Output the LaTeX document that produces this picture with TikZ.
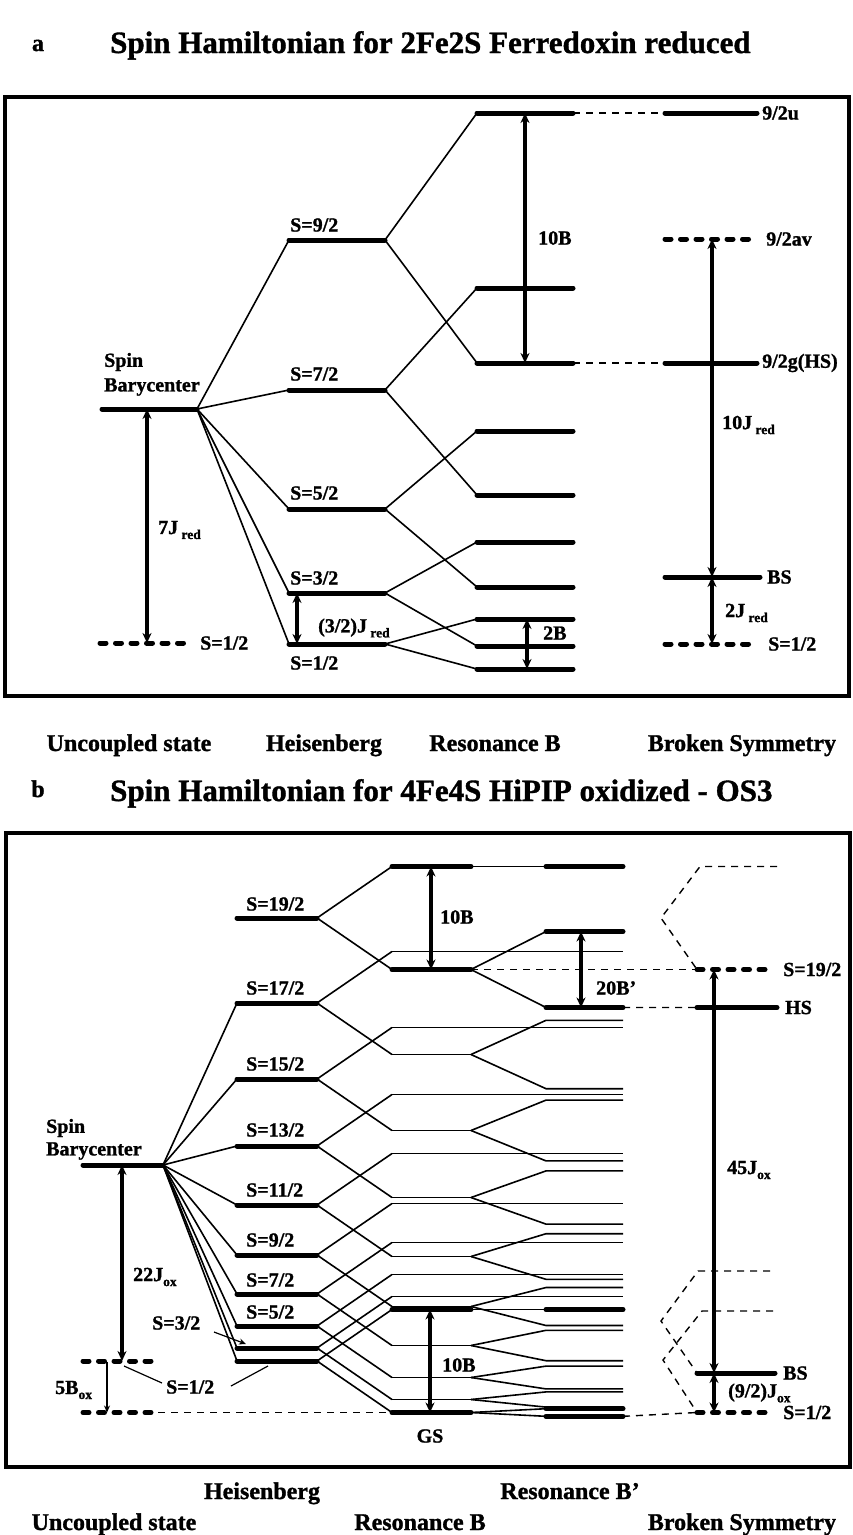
\documentclass[tikz,border=0pt]{standalone}
\usepackage{fontspec}
\setmainfont{Liberation Serif}[BoldFeatures={FakeBold=1.2}]
\usetikzlibrary{arrows.meta}
\newcommand{\lsub}[1]{\raisebox{-5pt}{\fontsize{13.5}{13.5}\selectfont #1}}
\begin{document}
\begin{tikzpicture}[x=1pt,y=-1pt,
 lvl/.style={line width=5pt,line cap=round},
 dlvl/.style={line width=5pt,line cap=round,dash pattern=on 6pt off 9.5pt},
 tline/.style={line width=1.6pt},
 tdash/.style={line width=1.4pt,dash pattern=on 7pt off 6pt},
 darr/.style={line width=3.2pt,{Stealth[length=10pt,width=9pt]}-{Stealth[length=10pt,width=9pt]}},
 sarr/.style={line width=1.2pt,-{Stealth[length=7pt,width=6pt]}},
 lab/.style={font=\fontsize{20}{20}\selectfont\bfseries,inner sep=0pt},
 axl/.style={font=\fontsize{24}{24}\selectfont\bfseries,inner sep=0pt},
 ttl/.style={font=\fontsize{31}{31}\selectfont\bfseries,inner sep=0pt},
 frm/.style={line width=4.5pt}
]
\useasboundingbox (0,0) rectangle (853,1535);

% ---------------- titles ----------------
\node[axl,anchor=base] (ta) at (38,51) {a};
\node[ttl,anchor=base west] (tta) at (110,53) {Spin Hamiltonian for 2Fe2S Ferredoxin reduced};
\node[axl,anchor=base] (tb) at (38,797) {b};
\node[ttl,anchor=base west] (ttb) at (110,801) {Spin Hamiltonian for 4Fe4S HiPIP oxidized - OS3};

% ---------------- frames ----------------
\draw[frm] (5,97) rectangle (849,696);
\draw[frm] (6,833) rectangle (850,1467);

% ================= PANEL A =================
\coordinate (aBL) at (102,409); \coordinate (aBR) at (197,409);
\coordinate (aUL) at (100,643); \coordinate (aUR) at (192,643);
\node[lab,anchor=west] (aspin) at (104,362) {Spin};
\node[lab,anchor=west] (abary) at (104,387) {Barycenter};
\node[lab,anchor=west] (aU12) at (200,643) {S=1/2};

\foreach \n/\h/\u/\d in {9/240/113/363,7/390/288/495,5/509/431/587,3/593/542/646,1/644/619/669}{
 \coordinate (aHl\n) at (289,\h); \coordinate (aHr\n) at (385,\h);
 \coordinate (aRul\n) at (477,\u); \coordinate (aRur\n) at (573,\u);
 \coordinate (aRdl\n) at (477,\d); \coordinate (aRdr\n) at (573,\d);
 \draw[tline] (aBR) -- (aHl\n);
 \draw[tline] (aHr\n) -- (aRul\n);
 \draw[tline] (aHr\n) -- (aRdl\n);
 \draw[lvl] (aHl\n) -- (aHr\n);
 \draw[lvl] (aRul\n) -- (aRur\n);
 \draw[lvl] (aRdl\n) -- (aRdr\n);
}
\draw[lvl] (aBL) -- (aBR);
\draw[dlvl] (aUL) -- (aUR);

\node[lab,anchor=west] (aS9) at (290,225) {S=9/2};
\node[lab,anchor=west] (aS7) at (290,374) {S=7/2};
\node[lab,anchor=west] (aS5) at (290,493) {S=5/2};
\node[lab,anchor=west] (aS3) at (290,578) {S=3/2};
\node[lab,anchor=west] (aS1) at (290,663) {S=1/2};

% arrows panel a
\coordinate (a7t) at (147,409); \coordinate (a7b) at (147,643);
\draw[darr] (a7t) -- (a7b);
\node[lab,anchor=west] (a7J) at (158,530) {7J\,\lsub{red}};
\coordinate (a32t) at (297,593); \coordinate (a32b) at (297,644);
\draw[darr] (a32t) -- (a32b);
\node[lab,anchor=west] (a32J) at (318,628) {(3/2)J\,\lsub{red}};
\coordinate (a10t) at (525,113); \coordinate (a10b) at (525,363);
\draw[darr] (a10t) -- (a10b);
\node[lab,anchor=west] (a10B) at (538,238) {10B};
\coordinate (a2t) at (527,619); \coordinate (a2b) at (527,669);
\draw[darr] (a2t) -- (a2b);
\node[lab,anchor=west] (a2B) at (543,633) {2B};

% broken symmetry panel a
\coordinate (aSul) at (665,113); \coordinate (aSur) at (757,113);
\coordinate (aSal) at (665,239); \coordinate (aSar) at (757,239);
\coordinate (aSgl) at (665,363); \coordinate (aSgr) at (757,363);
\coordinate (aSbl) at (665,577); \coordinate (aSbr) at (760,577);
\coordinate (aShl) at (665,644); \coordinate (aShr) at (757,644);
\draw[tdash] (aRur9) -- (aSul);
\draw[tdash] (aRdr9) -- (aSgl);
\draw[lvl] (aSul) -- (aSur);
\draw[dlvl] (aSal) -- (aSar);
\draw[lvl] (aSgl) -- (aSgr);
\draw[lvl] (aSbl) -- (aSbr);
\draw[dlvl] (aShl) -- (aShr);
\node[lab,anchor=west] (a9u) at (762,113) {9/2u};
\node[lab,anchor=west] (a9av) at (766,239) {9/2av};
\node[lab,anchor=west] (a9g) at (762,363) {9/2g(HS)};
\node[lab,anchor=west] (aBS) at (767,577) {BS};
\node[lab,anchor=west] (aBS12) at (768,644) {S=1/2};
\coordinate (a10Jt) at (712,239); \coordinate (a10Jb) at (712,577); \coordinate (a2Jb) at (712,644);
\draw[darr] (a10Jt) -- (a10Jb);
\draw[darr] (a10Jb) -- (a2Jb);
\node[lab,anchor=west] (a10J) at (722,425) {10J\,\lsub{red}};
\node[lab,anchor=west] (a2J) at (725,613) {2J\,\lsub{red}};

% axis labels panel a
\node[axl,anchor=base] (aax1) at (129,751) {Uncoupled state};
\node[axl,anchor=base] (aax2) at (324,751) {Heisenberg};
\node[axl,anchor=base] (aax3) at (495,751) {Resonance B};
\node[axl,anchor=base] (aax4) at (742,751) {Broken Symmetry};

% ================= PANEL B =================
\coordinate (bBL) at (83,1165); \coordinate (bBR) at (163,1165);
\coordinate (bUL) at (83,1361); \coordinate (bUR) at (158,1361);
\coordinate (bGL) at (83,1412.5); \coordinate (bGR) at (158,1412.5);

\foreach \s/\y in {19/918,17/1003,15/1079,13/1146,11/1205,9/1255,7/1294,5/1326,3/1348,1/1361}{
  \pgfmathsetmacro\yu{\y-51.5}
  \pgfmathsetmacro\yl{\y+51.5}
  \pgfmathsetmacro\dd{1.9*(\s+1)}
  \pgfmathsetmacro\ya{\yl-\dd}
  \pgfmathsetmacro\yb{\yl+\dd}
  \coordinate (bHl\s) at (237,\y);
  \coordinate (bHr\s) at (317,\y);
  \coordinate (bUl\s) at (392,\yu);
  \coordinate (bUr\s) at (623,\yu);
  \coordinate (bLl\s) at (392,\yl);
  \coordinate (bLr\s) at (471,\yl);
  \coordinate (bPal\s) at (546,\ya);
  \coordinate (bPar\s) at (623,\ya);
  \coordinate (bPbl\s) at (546,\yb);
  \coordinate (bPbr\s) at (623,\yb);
  \draw[tline] (bHr\s) -- (bUl\s);
  \draw[tline] (bHr\s) -- (bLl\s);
  \draw[tline] (bUl\s) -- (bUr\s);
  \draw[tline] (bLl\s) -- (bLr\s);
  \draw[tline] (bLr\s) -- (bPal\s) -- (bPar\s);
  \draw[tline] (bLr\s) -- (bPbl\s) -- (bPbr\s);
  \draw[lvl] (bHl\s) -- (bHr\s);
}
\foreach \s in {17,15,...,1}{\draw[tline] (bBR) -- (bHl\s);}

% thick levels
\foreach \s in {19,1}{
  \draw[lvl] (bUl\s) -- ([xshift=79pt]bUl\s);
  \draw[lvl] ([xshift=154pt]bUl\s) -- (bUr\s);
  \draw[lvl] (bLl\s) -- (bLr\s);
  \draw[lvl] (bPal\s) -- (bPar\s);
  \draw[lvl] (bPbl\s) -- (bPbr\s);
}

\draw[lvl] (bBL) -- (bBR);
\draw[dlvl] (bUL) -- (bUR);
\draw[dlvl] (bGL) -- (bGR);
\draw[tdash] (bGR) -- (bLl1);

\node[lab,anchor=west] (bspin) at (46,1128) {Spin};
\node[lab,anchor=west] (bbary) at (46,1151) {Barycenter};

\node[lab,anchor=west] (bS19) at (246,904) {S=19/2};
\node[lab,anchor=west] (bS17) at (246,988) {S=17/2};
\node[lab,anchor=west] (bS15) at (246,1064) {S=15/2};
\node[lab,anchor=west] (bS13) at (246,1130) {S=13/2};
\node[lab,anchor=west] (bS11) at (246,1190) {S=11/2};
\node[lab,anchor=west] (bS9) at (246,1240) {S=9/2};
\node[lab,anchor=west] (bS7) at (246,1280) {S=7/2};
\node[lab,anchor=west] (bS5) at (246,1312) {S=5/2};
\node[lab,anchor=west] (bS3) at (152,1323) {S=3/2};
\node[lab,anchor=west] (bS1) at (166,1387) {S=1/2};
\coordinate (b3a) at (214,1332); \coordinate (b3b) at (246,1344);
\draw[sarr] (b3a) -- (b3b);
\coordinate (b1a) at (162,1383); \coordinate (b1b) at (124,1366);
\coordinate (b1c) at (231,1386); \coordinate (b1d) at (268,1366);
\draw[line width=1.2pt] (b1a) -- (b1b);
\draw[line width=1.2pt] (b1c) -- (b1d);

% arrows panel b (left)
\coordinate (b22t) at (122,1165); \coordinate (b22b) at (122,1361);
\draw[darr] (b22t) -- (b22b);
\node[lab,anchor=west] (b22J) at (133,1277) {22J\lsub{ox}};
\coordinate (b5t) at (107,1362); \coordinate (b5b) at (107,1412.5);
\draw[sarr] (b5t) -- (b5b);
\node[lab,anchor=west] (b5B) at (55,1390) {5B\lsub{ox}};

% resonance arrows
\coordinate (b10at) at (431,866.5); \coordinate (b10ab) at (431,969.5);
\draw[darr] (b10at) -- (b10ab);
\node[lab,anchor=west] (b10Ba) at (440,917) {10B};
\coordinate (b10bt) at (430,1309.5); \coordinate (b10bb) at (430,1412.5);
\draw[darr] (b10bt) -- (b10bb);
\node[lab,anchor=west] (b10Bb) at (442,1365) {10B};
\node[lab] (bGS) at (430,1436) {GS};
\coordinate (b20t) at (581,931.5); \coordinate (b20b) at (581,1007.5);
\draw[darr] (b20t) -- (b20b);
\node[lab,anchor=west] (b20B) at (596,988) {20B’};

% broken symmetry panel b
\coordinate (bS19l) at (697,969.5); \coordinate (bS19r) at (773,969.5);
\coordinate (bHSl) at (697,1007.5); \coordinate (bHSr) at (777,1007.5);
\coordinate (bBSl) at (697,1373); \coordinate (bBSr) at (775,1373);
\coordinate (bS1l) at (697,1412.5); \coordinate (bS1r) at (770,1412.5);
\draw[tdash] (777,866.5) -- (700,866.5) -- (661,918) -- (bS19l);
\draw[tdash] (770,1271) -- (698,1271) -- (661,1321) -- (bBSl);
\draw[tdash] (773,1311) -- (702,1311) -- (663,1360) -- (bS1l);
\draw[tdash] (bLr19) -- (bS19l);
\draw[tdash] (bPbr19) -- (bHSl);
\draw[tdash] (bPbr1) -- (bS1l);
\draw[dlvl] (bS19l) -- (bS19r);
\draw[lvl] (bHSl) -- (bHSr);
\draw[lvl] (bBSl) -- (bBSr);
\draw[dlvl] (bS1l) -- (bS1r);
\node[lab,anchor=west] (bl19) at (783,969.5) {S=19/2};
\node[lab,anchor=west] (blHS) at (785,1007.5) {HS};
\node[lab,anchor=west] (blBS) at (783,1373) {BS};
\node[lab,anchor=west] (bl1) at (783,1412.5) {S=1/2};
\coordinate (b45t) at (714,969.5); \coordinate (b45b) at (714,1373); \coordinate (b92b) at (714,1412.5);
\draw[darr] (b45t) -- (b45b);
\draw[darr] (b45b) -- (b92b);
\node[lab,anchor=west] (b45J) at (727,1170) {45J\lsub{ox}};
\node[lab,anchor=west] (b92J) at (728,1393) {(9/2)J\lsub{ox}};

% axis labels panel b
\node[axl,anchor=base] (bax1) at (262,1499) {Heisenberg};
\node[axl,anchor=base] (bax2) at (570,1499) {Resonance B’};
\node[axl,anchor=base] (bax3) at (114,1530) {Uncoupled state};
\node[axl,anchor=base] (bax4) at (420,1530) {Resonance B};
\node[axl,anchor=base] (bax5) at (742,1530) {Broken Symmetry};
\end{tikzpicture}
\end{document}
